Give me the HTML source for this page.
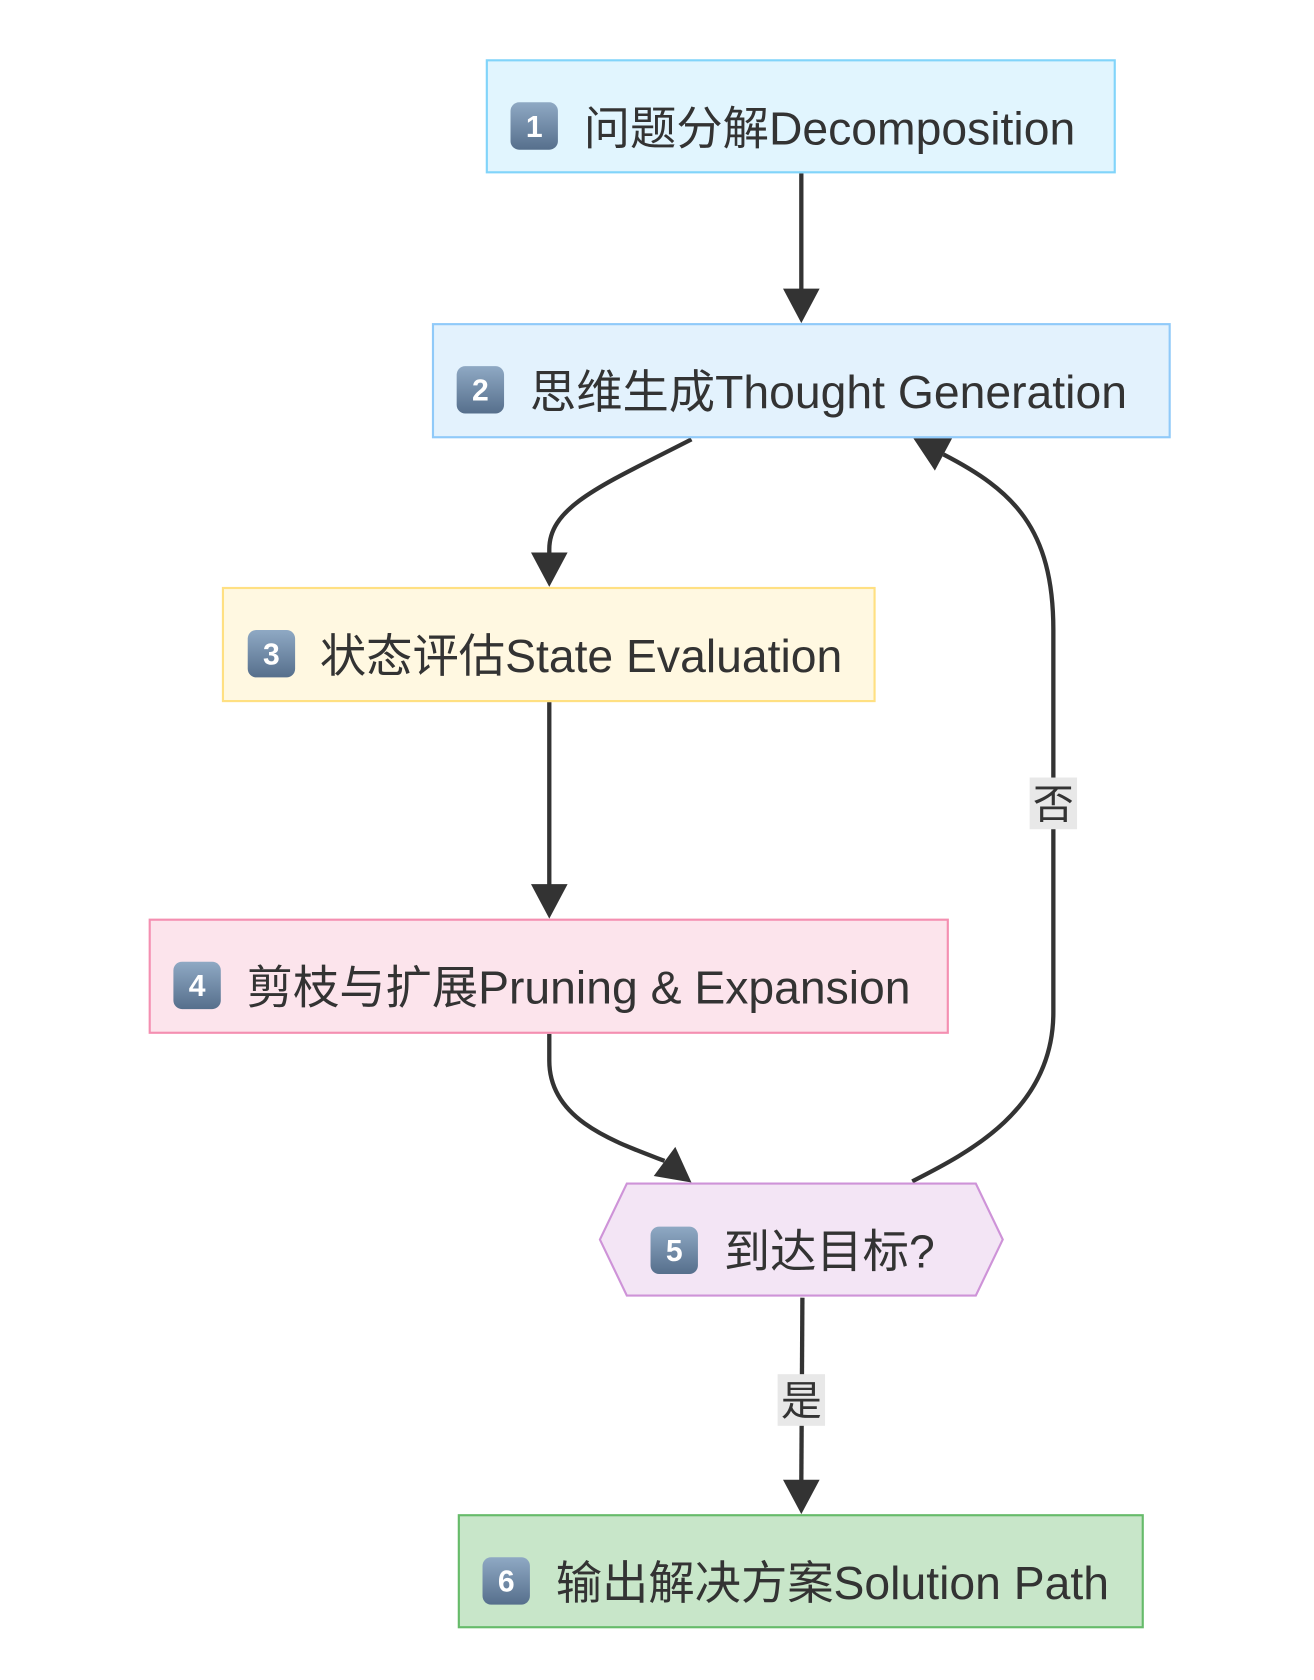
<!DOCTYPE html>
<html><head><meta charset="utf-8"><style>
html,body{margin:0;padding:0;background:#fff;}
svg{display:block;}
text{font-family:"Liberation Sans","Noto Sans CJK SC",sans-serif;fill:#333;}
</style></head><body>
<svg width="1314" height="1680" viewBox="0 0 1220 1560" preserveAspectRatio="none" xmlns="http://www.w3.org/2000/svg">
<defs>
<linearGradient id="kc" x1="0" y1="0" x2="0" y2="1"><stop offset="0" stop-color="#8fa9c4"/><stop offset="1" stop-color="#566f8c"/></linearGradient>
<clipPath id="c1"><rect x="452" y="56" width="563" height="105"/></clipPath>
<clipPath id="c2"><rect x="402" y="301" width="664" height="105"/></clipPath>
<clipPath id="c3"><rect x="207" y="546" width="586" height="105"/></clipPath>
<clipPath id="c4"><rect x="139" y="854" width="722" height="105"/></clipPath>
<clipPath id="c6"><rect x="426" y="1407" width="615" height="105"/></clipPath>
</defs>
<g fill="none" stroke="#333" stroke-width="4">
<path d="M744 161 V270"/>
<path d="M642 408 C560 450 510 470 510 510 V515"/>
<path d="M510 652 V822"/>
<path d="M510 960 V985 C510 1040 570 1060 617 1078"/>
<path d="M847 1097 C900 1070 978 1030 978 940 V585 C978 490 940 455 876 422"/>
<path d="M745 1205 L744 1375"/>
</g>
<g fill="#333">
<polygon points="727,268 761,268 744,300"/>
<polygon points="493,513 527,513 510,545"/>
<polygon points="493,821 527,821 510,853"/>
<polygon points="607,1092 627,1065 642,1098"/>
<polygon points="884,407 868,437 848,407"/>
<polygon points="727,1374 761,1374 744,1406"/>
</g>
<rect x="452" y="56" width="583" height="104" fill="#e1f5fe" stroke="#81d4fa" stroke-width="2"/>
<rect x="402" y="301" width="684" height="105" fill="#e3f2fd" stroke="#90caf9" stroke-width="2"/>
<rect x="207" y="546" width="605" height="105" fill="#fff8e1" stroke="#ffe082" stroke-width="2"/>
<rect x="139" y="854" width="741" height="105" fill="#fce4ec" stroke="#f48fb1" stroke-width="2"/>
<polygon points="557,1151 582,1099 906,1099 931,1151 906,1203 582,1203" fill="#f3e5f5" stroke="#ce93d8" stroke-width="2"/>
<rect x="426" y="1407" width="635" height="104" fill="#c8e6c9" stroke="#66bb6a" stroke-width="2"/>
<g font-size="28" font-weight="bold">
<rect x="474" y="95" width="44" height="44" rx="8" fill="url(#kc)"/><text x="496" y="127" text-anchor="middle" style="fill:#fff">1</text>
<rect x="424" y="340" width="44" height="44" rx="8" fill="url(#kc)"/><text x="446" y="372" text-anchor="middle" style="fill:#fff">2</text>
<rect x="230" y="585" width="44" height="44" rx="8" fill="url(#kc)"/><text x="252" y="617" text-anchor="middle" style="fill:#fff">3</text>
<rect x="161" y="893" width="44" height="44" rx="8" fill="url(#kc)"/><text x="183" y="925" text-anchor="middle" style="fill:#fff">4</text>
<rect x="604" y="1139" width="44" height="44" rx="8" fill="url(#kc)"/><text x="626" y="1171" text-anchor="middle" style="fill:#fff">5</text>
<rect x="448" y="1446" width="44" height="44" rx="8" fill="url(#kc)"/><text x="470" y="1478" text-anchor="middle" style="fill:#fff">6</text>
</g>
<g font-size="43">
<text x="542" y="134" clip-path="url(#c1)">问题分解Decomposition</text>
<text x="492" y="379" clip-path="url(#c2)">思维生成Thought Generation</text>
<text x="297" y="624" clip-path="url(#c3)">状态评估State Evaluation</text>
<text x="229" y="932" clip-path="url(#c4)">剪枝与扩展Pruning &amp; Expansion</text>
<text x="672" y="1177">到达目标?</text>
<text x="516" y="1485" clip-path="url(#c6)">输出解决方案Solution Path</text>
</g>
<rect x="956" y="722" width="44" height="48" fill="#e8e8e8"/>
<text x="978" y="760" font-size="38" text-anchor="middle">否</text>
<rect x="722" y="1276" width="44" height="48" fill="#e8e8e8"/>
<text x="744" y="1314" font-size="38" text-anchor="middle">是</text>
</svg>
</body></html>
